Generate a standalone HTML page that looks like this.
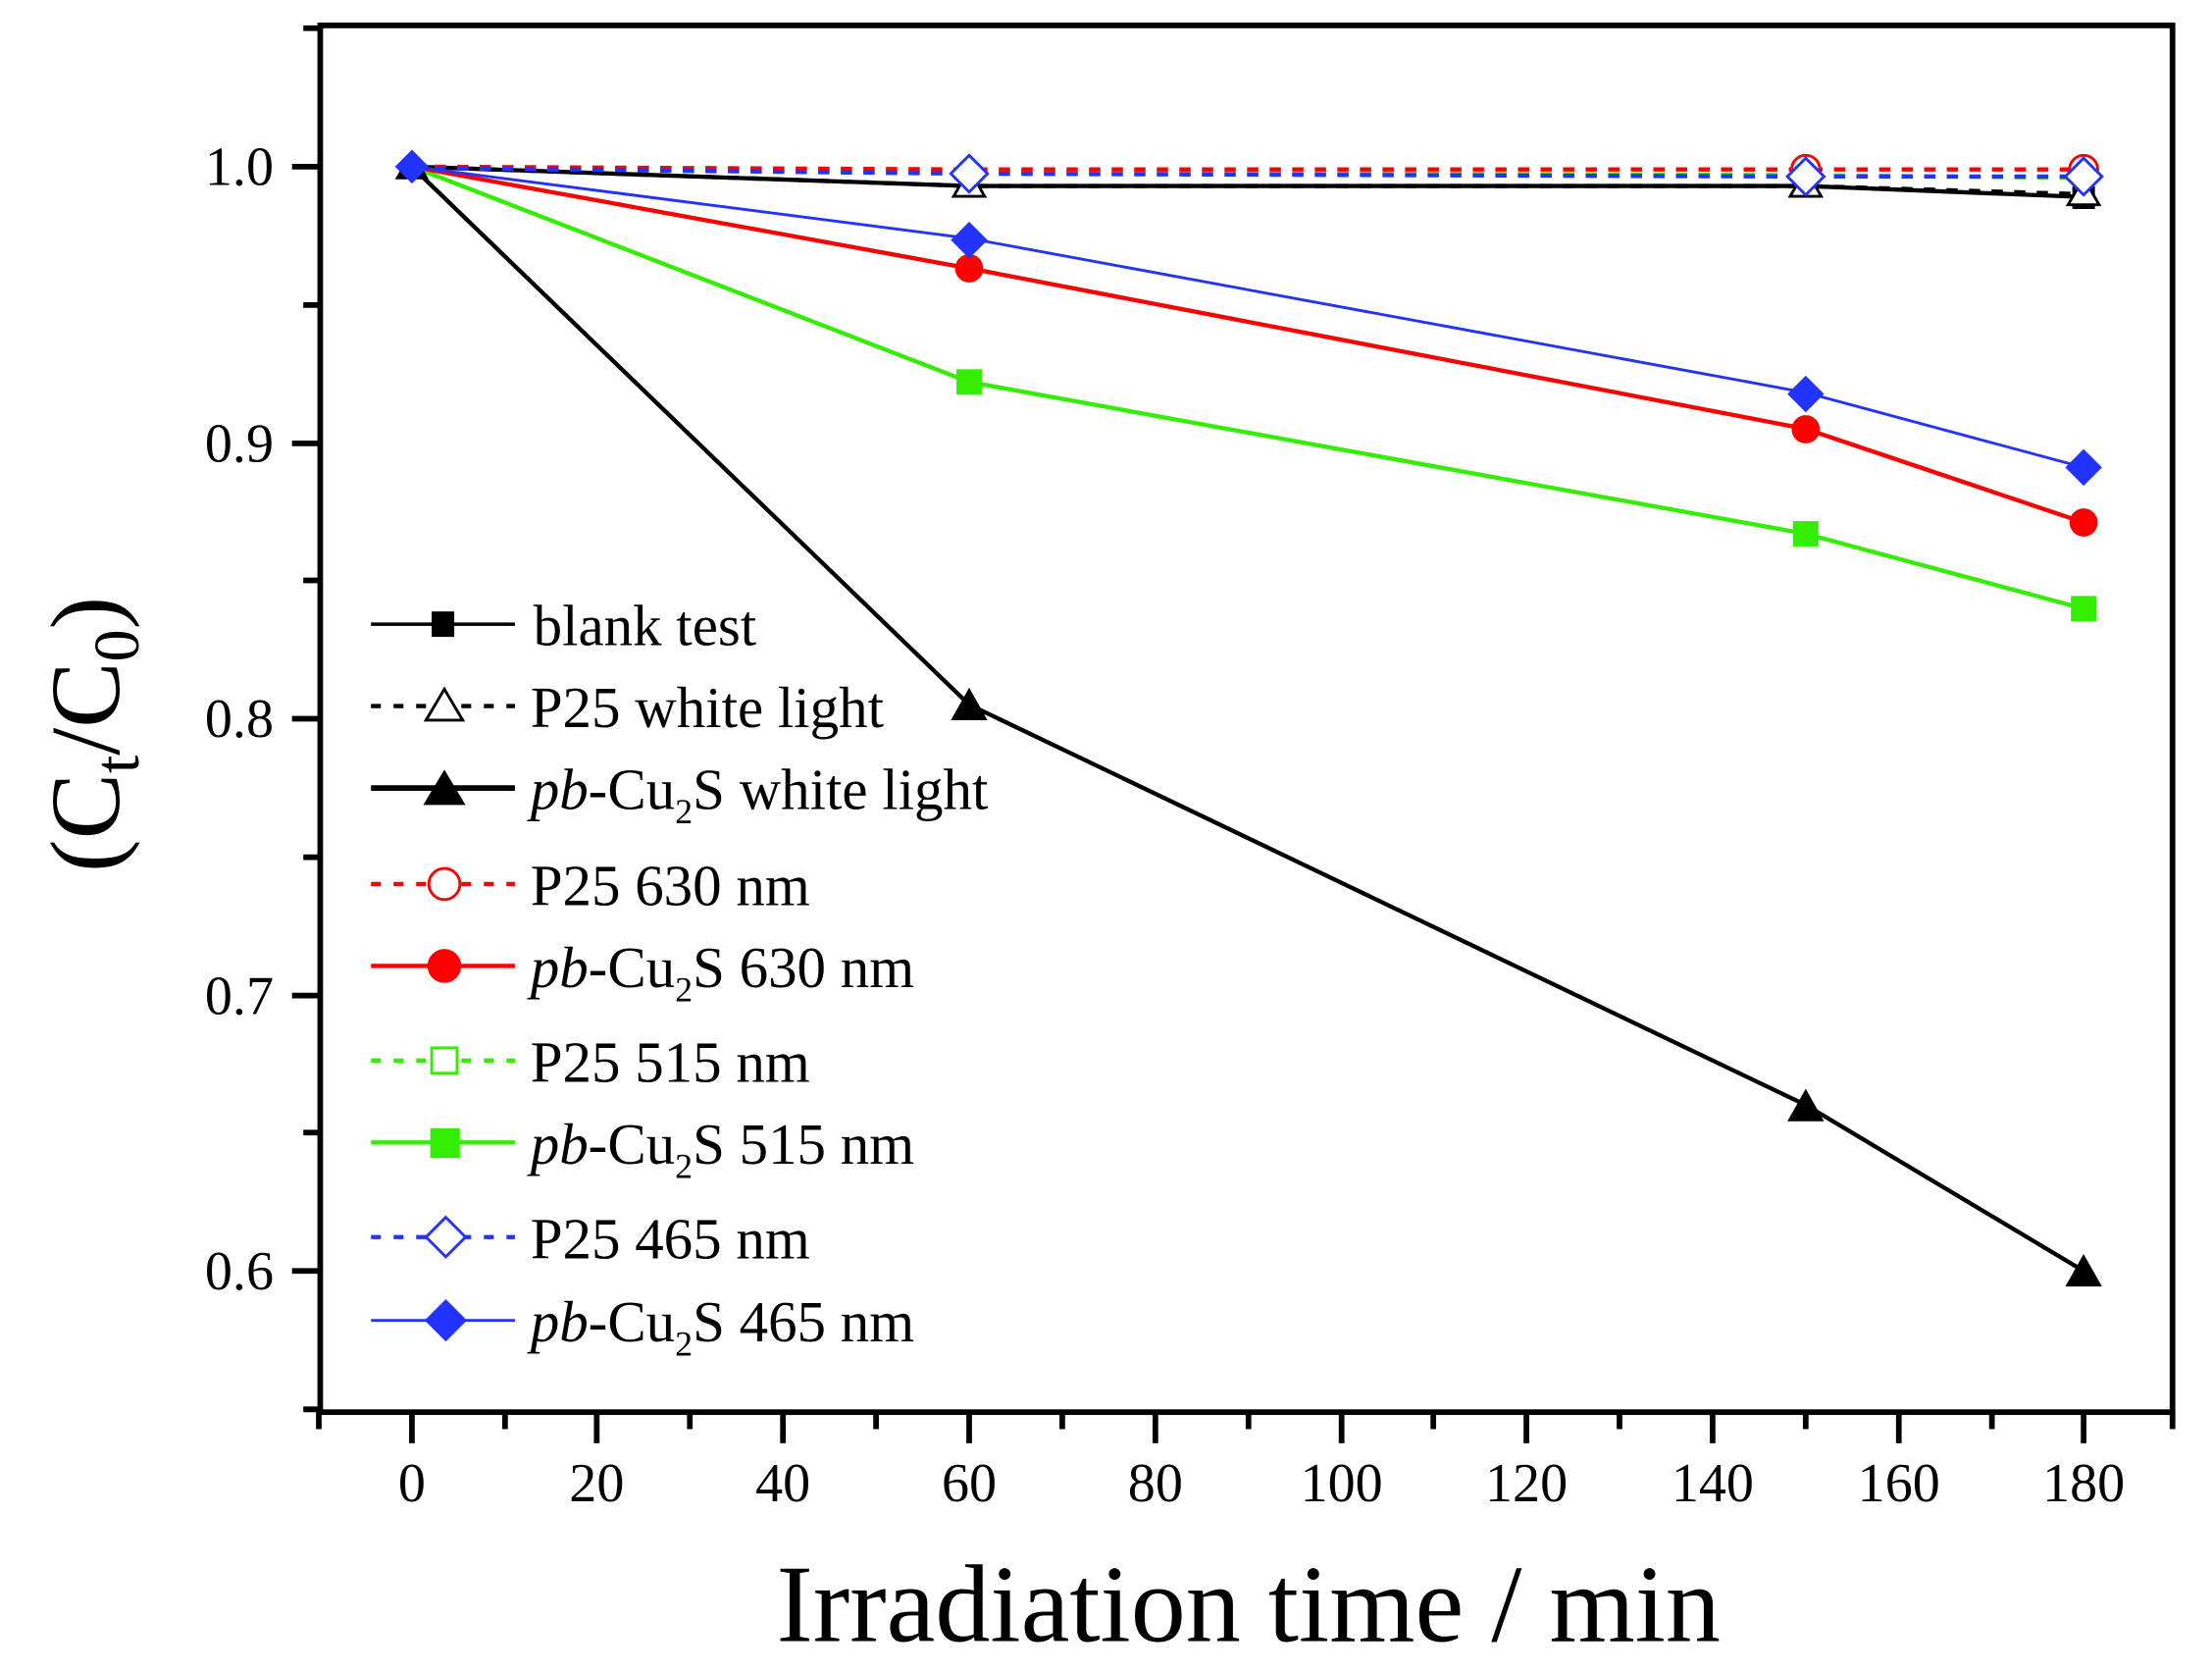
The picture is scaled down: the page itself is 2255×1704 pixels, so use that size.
<!DOCTYPE html>
<html><head><meta charset="utf-8"><style>
html,body{margin:0;padding:0;background:#fff;}
svg{display:block;}
text{font-family:"Liberation Serif",serif;}
</style></head><body>
<svg width="2255" height="1704" viewBox="0 0 1568 1184" preserveAspectRatio="none" xmlns="http://www.w3.org/2000/svg">
<rect x="227" y="18" width="1313" height="982" fill="none" stroke="#000" stroke-width="4"/>
<g stroke="#000" stroke-width="4">
<line x1="226" y1="1000" x2="226" y2="1012"/>
<line x1="292" y1="1000" x2="292" y2="1022"/><line x1="358" y1="1000" x2="358" y2="1012"/>
<line x1="423" y1="1000" x2="423" y2="1022"/><line x1="489" y1="1000" x2="489" y2="1012"/>
<line x1="555" y1="1000" x2="555" y2="1022"/><line x1="621" y1="1000" x2="621" y2="1012"/>
<line x1="687" y1="1000" x2="687" y2="1022"/><line x1="753" y1="1000" x2="753" y2="1012"/>
<line x1="819" y1="1000" x2="819" y2="1022"/><line x1="885" y1="1000" x2="885" y2="1012"/>
<line x1="951" y1="1000" x2="951" y2="1022"/><line x1="1016" y1="1000" x2="1016" y2="1012"/>
<line x1="1082" y1="1000" x2="1082" y2="1022"/><line x1="1148" y1="1000" x2="1148" y2="1012"/>
<line x1="1214" y1="1000" x2="1214" y2="1022"/><line x1="1280" y1="1000" x2="1280" y2="1012"/>
<line x1="1346" y1="1000" x2="1346" y2="1022"/><line x1="1412" y1="1000" x2="1412" y2="1012"/>
<line x1="1477" y1="1000" x2="1477" y2="1022"/><line x1="1540" y1="1000" x2="1540" y2="1012"/>
<line x1="207" y1="118" x2="227" y2="118"/><line x1="215" y1="216" x2="227" y2="216"/>
<line x1="207" y1="314" x2="227" y2="314"/><line x1="215" y1="411" x2="227" y2="411"/>
<line x1="207" y1="509" x2="227" y2="509"/><line x1="215" y1="607" x2="227" y2="607"/>
<line x1="207" y1="705" x2="227" y2="705"/><line x1="215" y1="802" x2="227" y2="802"/>
<line x1="207" y1="900" x2="227" y2="900"/><line x1="215" y1="998" x2="227" y2="998"/>
<line x1="215" y1="20" x2="227" y2="20"/>
</g>
<g font-size="39" text-anchor="end">
<text x="194" y="131">1.0</text><text x="194" y="327">0.9</text><text x="194" y="522">0.8</text>
<text x="194" y="718">0.7</text><text x="194" y="913">0.6</text>
</g>
<g font-size="39" text-anchor="middle">
<text x="292" y="1063">0</text><text x="423" y="1063">20</text><text x="555" y="1063">40</text>
<text x="687" y="1063">60</text><text x="819" y="1063">80</text><text x="951" y="1063">100</text>
<text x="1082" y="1063">120</text><text x="1214" y="1063">140</text><text x="1346" y="1063">160</text>
<text x="1477" y="1063">180</text>
</g>
<text x="885" y="1162" font-size="78" text-anchor="middle">Irradiation time / min</text>
<text transform="translate(84,520) rotate(-90)" font-size="70" text-anchor="middle">(C<tspan font-size="46" dy="14">t</tspan><tspan dy="-14">/C</tspan><tspan font-size="46" dy="14">0</tspan><tspan dy="-14">)</tspan></text>

<g fill="none" stroke-width="3">
<polyline stroke="#000" points="292,118 687,131.7 1280,131.7 1477,139.5"/>
<polyline stroke="#000" stroke-dasharray="8,8" points="292,118 687,131.7 1280,131.7 1477,137.5"/>
<polyline stroke="#33ee00" stroke-dasharray="8,8" points="292,118 687,122 1280,124 1477,126"/>
<polyline stroke="#ff0000" stroke-dasharray="8,8" points="292,118 687,120 1280,120 1477,120"/>
<polyline stroke="#2233ff" stroke-dasharray="8,8" points="292,119 687,123 1280,125 1477,125"/>
<polyline stroke="#000" points="292,118 687,499 1280,782.5 1477,900"/>
<polyline stroke="#33ee00" points="292,118 687,270.5 1280,378 1477,431"/>
<polyline stroke="#ff0000" points="292,118 687,190 1280,303.7 1477,370"/>
<polyline stroke="#2233ff" stroke-width="2" points="292,118 687,168.8 1280,278 1477,331"/>
</g>
<g fill="#000"><rect x="680" y="125" width="14" height="14"/><rect x="1273" y="125" width="14" height="14"/><rect x="1469" y="132" width="16" height="16"/></g>
<g fill="#fff" stroke="#000" stroke-width="2"><path d="M687,120 l-11,19 h22z"/><path d="M1280,120 l-11,19 h22z"/><path d="M1477,126 l-11,19 h22z"/></g>
<g fill="#000"><path d="M292,106 l-12,21 h24z"/><path d="M687,487 l-13,23 h26z"/><path d="M1280,771 l-13,23 h26z"/><path d="M1477,888 l-13,23 h26z"/></g>
<g fill="#33ee00"><rect x="678" y="261.5" width="18" height="18"/><rect x="1271" y="369" width="18" height="18"/><rect x="1468" y="422" width="18" height="18"/></g>
<g fill="#ff0000"><circle cx="687" cy="190" r="10"/><circle cx="1280" cy="304" r="10"/><circle cx="1477" cy="370" r="10"/></g>
<g fill="#fff" stroke="#ff0000" stroke-width="2"><circle cx="1280" cy="120" r="10"/><circle cx="1477" cy="120" r="10"/></g>
<g fill="#2233ff"><path d="M292,106 l12,12 l-12,12 l-12,-12z"/><path d="M687,157 l13,13 l-13,13 l-13,-13z"/><path d="M1280,266 l13,13 l-13,13 l-13,-13z"/><path d="M1477,318 l13,13 l-13,13 l-13,-13z"/></g>
<g fill="#fff" stroke="#2233ff" stroke-width="2"><path d="M687,110 l13,13 l-13,13 l-13,-13z"/><path d="M1280,112 l13,13 l-13,13 l-13,-13z"/><path d="M1477,112 l13,13 l-13,13 l-13,-13z"/></g>

<g stroke-width="3" fill="none">
<path d="M263,442 H365" stroke="#000" stroke-width="2.5"/>
<path d="M263,500 H365" stroke="#000" stroke-dasharray="7,9"/>
<path d="M263,558 H365" stroke="#000" stroke-width="4"/>
<path d="M263,626 H365" stroke="#ff0000" stroke-dasharray="7,9"/>
<path d="M263,684 H365" stroke="#ff0000"/>
<path d="M263,751 H365" stroke="#33ee00" stroke-dasharray="7,9"/>
<path d="M263,809 H365" stroke="#33ee00"/>
<path d="M263,876 H365" stroke="#2233ff" stroke-dasharray="7,9"/>
<path d="M263,935 H365" stroke="#2233ff" stroke-width="2"/>
</g>
<rect x="306" y="433" width="16" height="18" fill="#000"/>
<path d="M315,488 l-13,22 h26z" fill="#fff" stroke="#000" stroke-width="2"/>
<path d="M315,545 l-15,25 h30z" fill="#000"/>
<circle cx="315" cy="626" r="11" fill="#fff" stroke="#ff0000" stroke-width="2"/>
<circle cx="315" cy="684" r="12" fill="#ff0000"/>
<rect x="306" y="742" width="18" height="18" fill="#fff" stroke="#33ee00" stroke-width="2"/>
<rect x="305" y="799" width="21" height="21" fill="#33ee00"/>
<path d="M316,862 l14,14 l-14,14 l-14,-14z" fill="#fff" stroke="#2233ff" stroke-width="2"/>
<path d="M316,920 l15,15 l-15,15 l-15,-15z" fill="#2233ff"/>
<g font-size="41">
<text x="378" y="457">blank test</text>
<text x="376" y="515">P25 white light</text>
<text x="376" y="573"><tspan font-style="italic">pb</tspan>-Cu<tspan font-size="25" dy="10">2</tspan><tspan dy="-10">S white light</tspan></text>
<text x="376" y="641">P25 630 nm</text>
<text x="376" y="699"><tspan font-style="italic">pb</tspan>-Cu<tspan font-size="25" dy="10">2</tspan><tspan dy="-10">S 630 nm</tspan></text>
<text x="376" y="766">P25 515 nm</text>
<text x="376" y="824"><tspan font-style="italic">pb</tspan>-Cu<tspan font-size="25" dy="10">2</tspan><tspan dy="-10">S 515 nm</tspan></text>
<text x="376" y="891">P25 465 nm</text>
<text x="376" y="950"><tspan font-style="italic">pb</tspan>-Cu<tspan font-size="25" dy="10">2</tspan><tspan dy="-10">S 465 nm</tspan></text>
</g>
</svg>
</body></html>
